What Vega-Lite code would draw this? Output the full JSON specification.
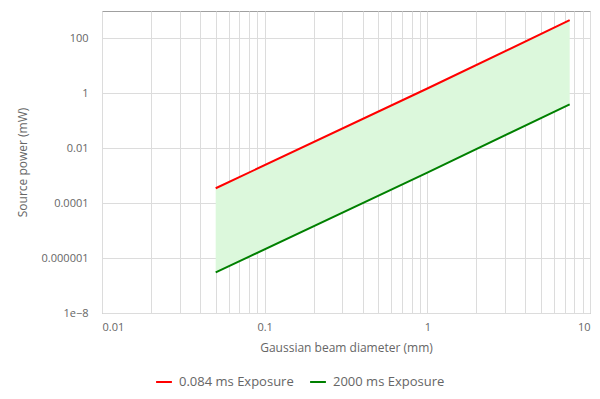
{
  "$schema": "https://vega.github.io/schema/vega-lite/v6.json",
  "width": 488,
  "height": 302,
  "autosize": "none",
  "padding": {"left": 102, "top": 11, "right": 10, "bottom": 86},
  "config": {
    "font": "Open Sans",
    "view": {"stroke": "#a0a0a0", "strokeWidth": 1},
    "axis": {"gridColor": "#dcdcdc", "gridWidth": 1, "domain": false, "ticks": false, "labelColor": "#666666", "titleColor": "#666666", "labelFontSize": 11, "titleFontSize": 12, "titleFontWeight": "normal"}
  },
  "datasets": {
    "lines": [
      {"series": "0.084 ms Exposure", "d": 0.05, "p": 0.00035},
      {"series": "0.084 ms Exposure", "d": 1, "p": 1.5},
      {"series": "0.084 ms Exposure", "d": 7.5, "p": 462},
      {"series": "2000 ms Exposure", "d": 0.05, "p": 0.0000003},
      {"series": "2000 ms Exposure", "d": 1, "p": 0.0013},
      {"series": "2000 ms Exposure", "d": 7.5, "p": 0.4}
    ],
    "band": [
      {"d": 0.05, "lo": 0.0000003, "hi": 0.00035},
      {"d": 1, "lo": 0.0013, "hi": 1.5},
      {"d": 7.5, "lo": 0.4, "hi": 462}
    ]
  },
  "layer": [
    {
      "data": {"name": "band"},
      "mark": {"type": "area", "color": "#dcf8dc", "opacity": 1},
      "encoding": {
        "x": {"field": "d", "type": "quantitative", "scale": {"type": "log", "domain": [0.01, 10]},
          "axis": {"title": "Gaussian beam diameter (mm)", "titlePadding": 10, "labelPadding": 8,
            "values": [0.01,0.02,0.03,0.04,0.05,0.06,0.07,0.08,0.09,0.1,0.2,0.3,0.4,0.5,0.6,0.7,0.8,0.9,1,2,3,4,5,6,7,8,9,10],
            "labelExpr": "datum.value == 0.01 ? '0.01' : datum.value == 0.1 ? '0.1' : datum.value == 1 ? '1' : datum.value == 10 ? '10' : ''"}},
        "y": {"field": "lo", "type": "quantitative", "scale": {"type": "log", "domain": [1e-8, 1000]},
          "axis": {"title": "Source power (mW)", "titlePadding": 12, "labelPadding": 14,
            "values": [1e-8, 1e-6, 1e-4, 0.01, 1, 100],
            "labelExpr": "datum.value < 1e-7 ? '1e\u22128' : datum.value < 1e-5 ? '0.000001' : datum.value < 1e-3 ? '0.0001' : datum.value < 0.1 ? '0.01' : datum.value < 10 ? '1' : '100'"}},
        "y2": {"field": "hi"}
      }
    },
    {
      "data": {"name": "lines"},
      "mark": {"type": "line", "strokeWidth": 2},
      "encoding": {
        "x": {"field": "d", "type": "quantitative"},
        "y": {"field": "p", "type": "quantitative"},
        "color": {"field": "series", "type": "nominal",
          "scale": {"domain": ["0.084 ms Exposure", "2000 ms Exposure"], "range": ["#ff0000", "#008000"]},
          "legend": {"title": null, "orient": "none", "legendX": 53, "legendY": 362, "direction": "horizontal",
            "symbolType": "stroke", "symbolStrokeWidth": 2, "symbolSize": 250, "labelFontSize": 13, "labelColor": "#666666", "columnPadding": 12, "labelOffset": 6}}
      }
    }
  ]
}
